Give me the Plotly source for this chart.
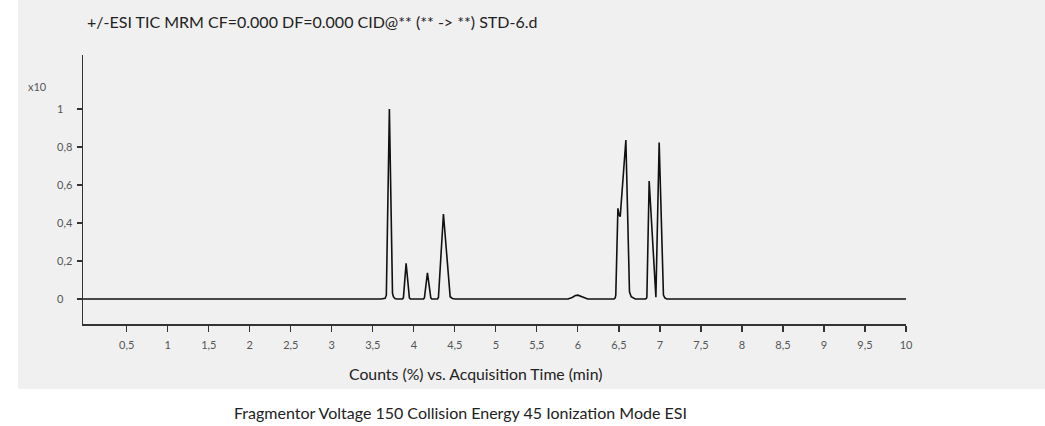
import plotly.graph_objects as go

# Chromatogram trace (time in min, counts x10)
time = [-0.033, 3.60, 3.650, 3.665, 3.702, 3.740, 3.751, 3.770, 3.793,
        3.862, 3.873, 3.906, 3.946, 3.958,
        4.118, 4.129, 4.166, 4.207, 4.219,
        4.288, 4.300, 4.361, 4.443, 4.470, 4.504,
        5.88, 5.93, 5.97, 6.0, 6.04, 6.08, 6.12,
        6.440, 6.455, 6.462, 6.488, 6.500, 6.516, 6.585, 6.629, 6.650, 6.699,
        6.821, 6.835, 6.841, 6.869, 6.951, 6.991, 7.043, 7.060, 7.085,
        10.028]
counts = [0.0, 0.0, 0.004, 0.02, 1.0, 0.03, 0.012, 0.002, 0.0,
          0.0, 0.006, 0.188, 0.006, 0.0,
          0.0, 0.006, 0.138, 0.006, 0.0,
          0.0, 0.008, 0.447, 0.012, 0.003, 0.0,
          0.0, 0.008, 0.018, 0.02, 0.014, 0.004, 0.0,
          0.0, 0.006, 0.02, 0.477, 0.445, 0.433, 0.837, 0.038, 0.012, 0.0,
          0.0, 0.003, 0.01, 0.621, 0.009, 0.823, 0.021, 0.006, 0.0,
          0.0]

x_tick_vals = [0.5, 1, 1.5, 2, 2.5, 3, 3.5, 4, 4.5, 5, 5.5, 6, 6.5, 7, 7.5, 8, 8.5, 9, 9.5, 10]
x_tick_text = ["0,5", "1", "1,5", "2", "2,5", "3", "3,5", "4", "4,5", "5", "5,5",
               "6", "6,5", "7", "7,5", "8", "8,5", "9", "9,5", "10"]
y_tick_vals = [0, 0.2, 0.4, 0.6, 0.8, 1]
y_tick_text = ["0", "0,2", "0,4", "0,6", "0,8", "1"]

title_text = "+/-ESI TIC MRM CF=0.000 DF=0.000 CID@** (** -> **) STD-6.d"
x_title = "Counts (%) vs. Acquisition Time (min)"
y_scale = "x10"
caption = "Fragmentor Voltage 150 Collision Energy 45 Ionization Mode ESI"

FONT = "Lato, 'Open Sans', sans-serif"
TICKC = "#555555"

fig = go.Figure()
fig.add_trace(go.Scatter(x=time, y=counts, mode="lines",
                         line=dict(color="#111111", width=1.6),
                         hoverinfo="skip", showlegend=False))

W, H = 1045, 426
L, R, T, B = 83, 139, 55, 102
pw, ph = W - L - R, H - T - B

def px(xpix):
    return (xpix - L) / pw

def py(ypix):
    return (H - B - ypix) / ph

annotations = [
    dict(text=title_text, x=px(85), y=py(22), xref="paper", yref="paper",
         xanchor="left", yanchor="middle", showarrow=False,
         font=dict(family=FONT, size=16, color="#222222")),
    dict(text=x_title, x=px(475), y=py(373), xref="paper", yref="paper",
         xanchor="center", yanchor="middle", showarrow=False,
         font=dict(family=FONT, size=15.8, color="#222222")),
    dict(text=caption, x=px(460), y=py(412), xref="paper", yref="paper",
         xanchor="center", yanchor="middle", showarrow=False,
         font=dict(family=FONT, size=16, color="#222222")),
    dict(text=y_scale, x=px(37.5), y=py(86), xref="paper", yref="paper",
         xanchor="center", yanchor="middle", showarrow=False,
         font=dict(family=FONT, size=11, color=TICKC)),
]
for v, t in zip(y_tick_vals, y_tick_text):
    annotations.append(dict(text=t, x=px(55), y=v, xref="paper", yref="y",
                            xanchor="left", yanchor="middle", showarrow=False,
                            font=dict(family=FONT, size=11, color=TICKC)))

fig.update_layout(
    width=W, height=H,
    margin=dict(l=L, r=R, t=T, b=B, pad=0),
    paper_bgcolor="white",
    plot_bgcolor="rgba(0,0,0,0)",
    font=dict(family=FONT),
    shapes=[dict(type="rect", xref="paper", yref="paper",
                 x0=px(18), x1=px(1060), y0=py(389), y1=py(-10),
                 fillcolor="#f0f0f0", line=dict(width=0), layer="below")],
    annotations=annotations,
    xaxis=dict(range=[-0.033, 10.0], showgrid=False, zeroline=False,
               showline=True, linecolor="#333333", linewidth=1.5,
               ticks="outside", ticklen=6, tickcolor="#333333", tickwidth=1.2,
               tickvals=x_tick_vals, ticktext=x_tick_text,
               ticklabelstandoff=4,
               tickfont=dict(family=FONT, size=11, color=TICKC)),
    yaxis=dict(range=[-0.1316, 1.284], showgrid=False, zeroline=False,
               showline=True, linecolor="#333333", linewidth=1.5,
               ticks="outside", ticklen=5, tickcolor="#333333", tickwidth=1.2,
               tickvals=y_tick_vals, showticklabels=False),
)

fig.write_html("out.html", config={"displayModeBar": False, "staticPlot": True})

# remove default browser body margin so the figure sits at the page origin
with open("out.html", "r", encoding="utf-8") as f:
    html = f.read()
html = html.replace("<head>", "<head><style>html,body{margin:0;padding:0;overflow:hidden;}</style>", 1)
with open("out.html", "w", encoding="utf-8") as f:
    f.write(html)
